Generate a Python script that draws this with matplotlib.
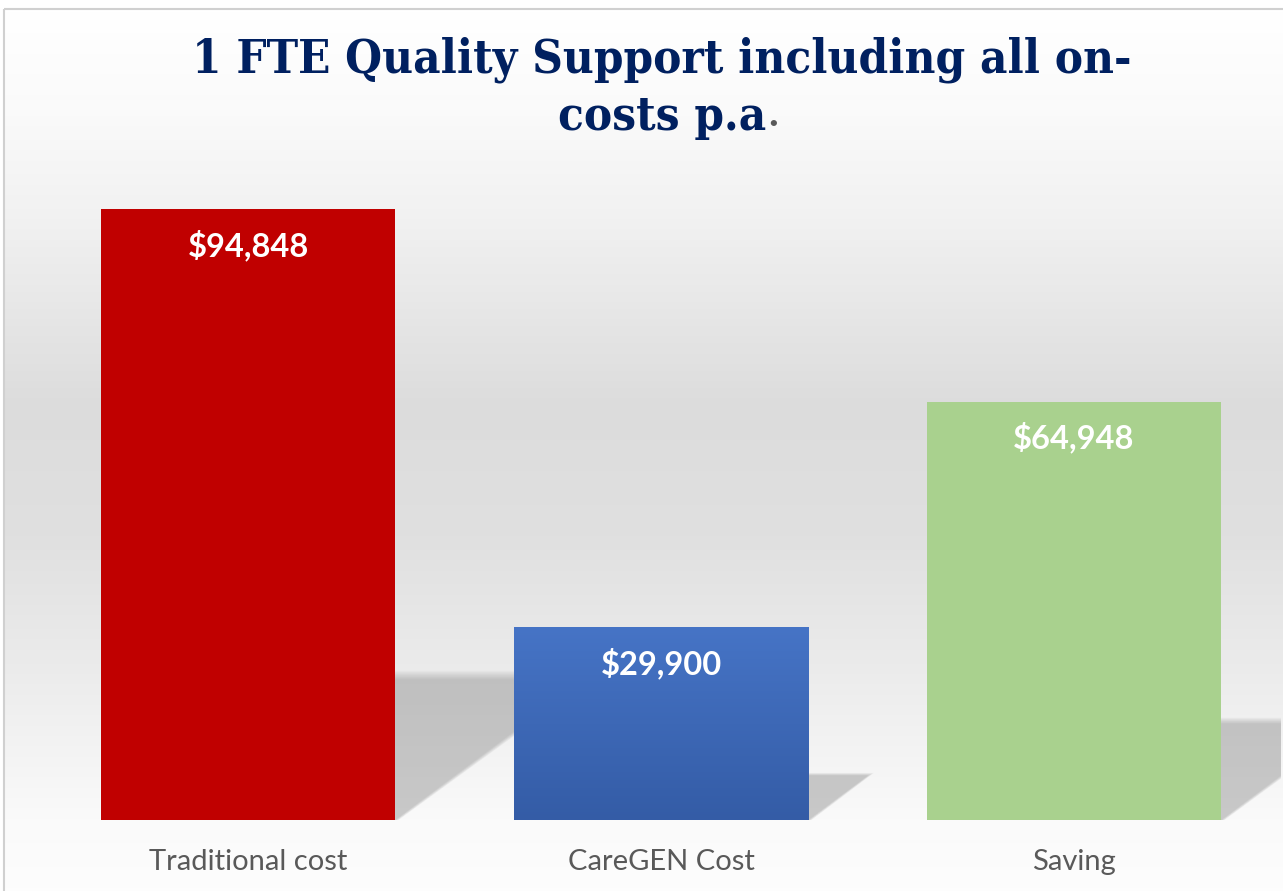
import numpy as np
import matplotlib.pyplot as plt
from matplotlib.patches import Polygon, Rectangle
from matplotlib.colors import LinearSegmentedColormap

categories = ['Traditional cost', 'CareGEN Cost', 'Saving']
values = [94848, 29900, 64948]
labels = ['$94,848', '$29,900', '$64,948']
colors = ['#C00000', '#4472C4', '#A9D18E']

W, H = 1283, 891
fig = plt.figure(figsize=(W / 100, H / 100), dpi=100)

# background panel with vertical grey gradient
bg = fig.add_axes([0, 0, 1, 1], zorder=0)
bg.set_xlim(0, W)
bg.set_ylim(H, 0)
bg.axis('off')
stops = [(0.0, '#ffffff'), (0.12, '#fafafa'), (0.25, '#f0f0f0'),
         (0.45, '#dcdcdc'), (0.6, '#e0e0e0'), (0.78, '#eeeeee'),
         (0.92, '#fafafa'), (1.0, '#fdfdfd')]
cmap = LinearSegmentedColormap.from_list('bg', stops)
grad = np.linspace(0, 1, 256).reshape(-1, 1)
bg.imshow(grad, cmap=cmap, aspect='auto', extent=(4, W + 2, H, 9), zorder=0)
bg.add_patch(Rectangle((4, 9), W, H, fill=False, edgecolor='#d0d0d0', lw=1.5, zorder=1))

ax = fig.add_axes([41.5 / W, (H - 820) / H, 1239 / W, 644.2 / H], zorder=1)
ax.patch.set_alpha(0)
ax.set_xlim(-0.5, 2.5)
ax.set_ylim(0, 100000)
x = np.arange(len(categories))
width = 0.712

# soft perspective shadows
px_per_y = 644.2 / 100000
px_per_x = 413
for xi, v in zip(x, values):
    sh = 0.235 * v
    dx = 1.4 * sh * px_per_y / px_per_x
    xl, xr = xi - width / 2, xi + width / 2
    n = 10
    for k in range(n):
        f = 1.0 - 0.09 * (n - 1 - k) / (n - 1)   # from wider/taller to tighter
        top = sh * (1.04 - 0.06 * k / (n - 1))
        poly = Polygon([(xl, 0), (xr + 0.01 * (1 - f) * 10, 0),
                        (xr + dx * (1.04 - 0.1 * k / (n - 1)), top), (xl, top)],
                       closed=True, facecolor='#7a7a7a', edgecolor='none',
                       alpha=0.045, zorder=1)
        ax.add_patch(poly)

bars = ax.bar(x, values, width=width, color=colors, zorder=2)

# gradient fill on the blue bar
b = bars[1]
bcmap = LinearSegmentedColormap.from_list('blue', ['#345ca6', '#4674c6'])
im = ax.imshow(grad, cmap=bcmap, aspect='auto', origin='lower',
               extent=(b.get_x(), b.get_x() + b.get_width(), 0, b.get_height()), zorder=3)
im.set_clip_path(b)
ax.set_xlim(-0.5, 2.5)
ax.set_ylim(0, 100000)

for xi, v, lab in zip(x, values, labels):
    ax.annotate(lab, (xi, v), xytext=(0, -26), textcoords='offset points',
                ha='center', va='center', color='white', fontsize=23.5,
                fontweight='bold', family='Lato', zorder=4)

ax.set_xticks(x)
ax.set_xticklabels(categories, fontsize=21, color='#595959', family='Lato')
ax.tick_params(axis='x', length=0, pad=21)
ax.set_yticks([])
for s in ax.spines.values():
    s.set_visible(False)

tfont = dict(family='DejaVu Serif', fontweight='bold', fontstretch='condensed',
             color='#002060', fontsize=34, ha='center', va='center')
fig.text(662 / W, 1 - 60 / H, '1 FTE Quality Support including all on-', **tfont)
t2 = fig.text(662 / W, 1 - 117 / H, 'costs p.a', **tfont)
fig.canvas.draw()
bb = t2.get_window_extent()
fig.text((bb.x1 + 1) / W, 1 - 117 / H, '.', family='DejaVu Serif', fontweight='bold',
         color='#595959', fontsize=24, ha='left', va='center')

fig.savefig('out.png', dpi=100)
